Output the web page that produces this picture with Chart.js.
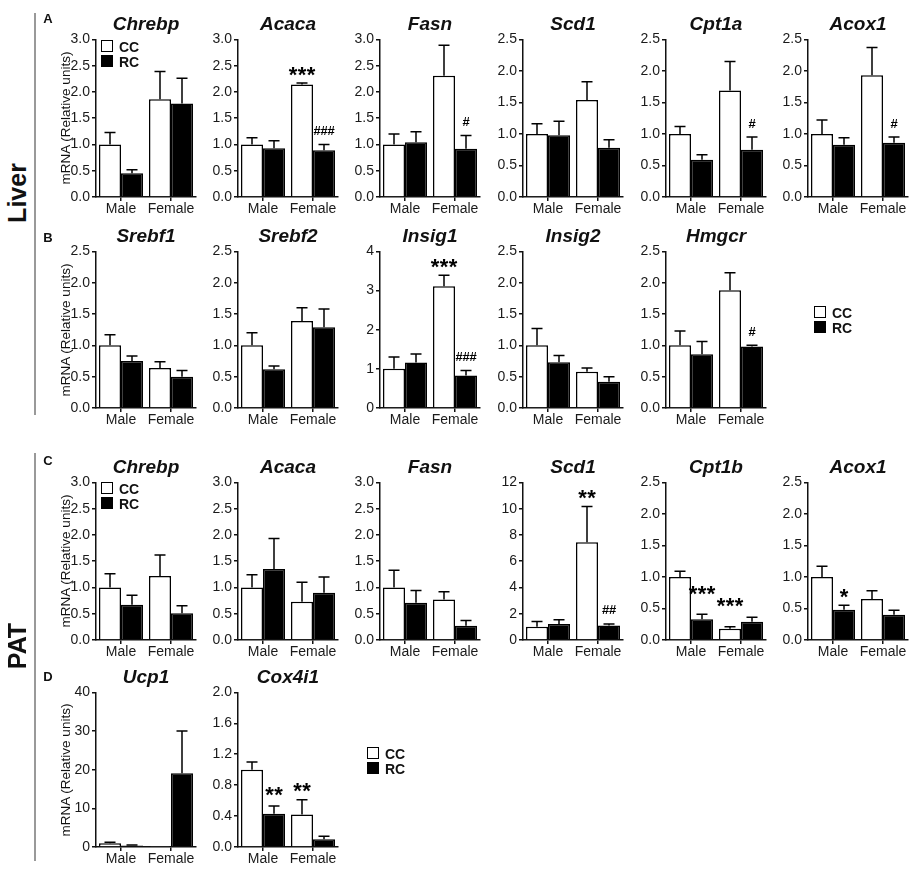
<!DOCTYPE html>
<html>
<head>
<meta charset="utf-8">
<script src="https://cdn.jsdelivr.net/npm/chart.js@4.4.1/dist/chart.umd.min.js"></script>
<style>
  body { margin: 0; width: 921px; height: 874px; position: relative; overflow: hidden; background: #fff;
         font-family: "Liberation Sans", Arial, sans-serif; }
  canvas { position: absolute; }
  .vline { position: absolute; left: 34px; width: 2px; background: #999; }
</style>
</head>
<body>
<div class="vline" style="top:13px;height:402px"></div>
<div class="vline" style="top:453px;height:408px"></div>
<script>
const groups = ['Male', 'Female'];

// A: liver, lipogenesis + oxidation
const genesA = ['Chrebp', 'Acaca', 'Fasn', 'Scd1', 'Cpt1a', 'Acox1'];
const ccA    = [[1.00, 1.86], [1.00, 2.14], [1.00, 2.31], [1.00, 1.54], [1.00, 1.69], [1.00, 1.93]];
const ccErrA = [[0.23, 0.53], [0.13, 0.03], [0.20, 0.58], [0.16, 0.29], [0.12, 0.46], [0.22, 0.44]];
const rcA    = [[0.45, 1.78], [0.93, 0.89], [1.04, 0.92], [0.98, 0.78], [0.59, 0.75], [0.83, 0.86]];
const rcErrA = [[0.07, 0.48], [0.14, 0.11], [0.20, 0.25], [0.22, 0.13], [0.08, 0.20], [0.11, 0.09]];
const yMaxA  = [3, 3, 3, 2.5, 2.5, 2.5];
const yStepA = [0.5, 0.5, 0.5, 0.5, 0.5, 0.5];
const sigA   = [[], [[0, 1, '***'], [1, 1, '###']], [[1, 1, '#']], [], [[1, 1, '#']], [[1, 1, '#']]];

// B: liver, cholesterol
const genesB = ['Srebf1', 'Srebf2', 'Insig1', 'Insig2', 'Hmgcr'];
const ccB    = [[1.00, 0.64], [1.00, 1.39], [1.00, 3.11], [1.00, 0.58], [1.00, 1.88]];
const ccErrB = [[0.17, 0.10], [0.20, 0.21], [0.30, 0.28], [0.27, 0.06], [0.23, 0.28]];
const rcB    = [[0.75, 0.50], [0.62, 1.29], [1.16, 0.83], [0.73, 0.42], [0.86, 0.98]];
const rcErrB = [[0.08, 0.10], [0.05, 0.29], [0.22, 0.13], [0.11, 0.08], [0.20, 0.02]];
const yMaxB  = [2.5, 2.5, 4, 2.5, 2.5];
const yStepB = [0.5, 0.5, 1, 0.5, 0.5];
const sigB   = [[], [], [[0, 1, '***'], [1, 1, '###']], [], [[1, 1, '#']]];

// C: PAT
const genesC = ['Chrebp', 'Acaca', 'Fasn', 'Scd1', 'Cpt1b', 'Acox1'];
const ccC    = [[1.00, 1.22], [1.00, 0.73], [1.00, 0.77], [1.00, 7.45], [1.00, 0.18], [1.00, 0.65]];
const ccErrC = [[0.26, 0.40], [0.24, 0.37], [0.33, 0.15], [0.40, 2.72], [0.09, 0.03], [0.17, 0.13]];
const rcC    = [[0.67, 0.51], [1.35, 0.90], [0.71, 0.27], [1.22, 1.10], [0.33, 0.29], [0.48, 0.40]];
const rcErrC = [[0.18, 0.14], [0.58, 0.30], [0.23, 0.10], [0.33, 0.12], [0.08, 0.07], [0.07, 0.07]];
const yMaxC  = [3, 3, 3, 12, 2.5, 2.5];
const yStepC = [0.5, 0.5, 0.5, 2, 0.5, 0.5];
const sigC   = [[], [], [], [[0, 1, '**'], [1, 1, '##']], [[1, 0, '***', 12], [0, 1, '***', 12]], [[1, 0, '*']]];

// D: PAT thermogenesis
const genesD = ['Ucp1', 'Cox4i1'];
const ccD    = [[1.00, 0.10], [1.00, 0.42]];
const ccErrD = [[0.20, 0.00], [0.10, 0.19]];
const rcD    = [[0.40, 19.1], [0.43, 0.10]];
const rcErrD = [[0.10, 10.9], [0.10, 0.04]];
const yMaxD  = [40, 2];
const yStepD = [10, 0.4];
const sigD   = [[], [[1, 0, '**', 3], [0, 1, '**']]];

const FONT = '"Liberation Sans", Arial, sans-serif';
Chart.defaults.font.family = FONT;
Chart.defaults.color = '#1a1a1a';

const colX = [96, 238, 380, 523, 666, 808];
const plotW = 100, axisW = 44, padTop = 10, padRight = 8, xAxisH = 26;

// error bars (upper only) and significance marks
const errorBars = {
  id: 'errorBars',
  afterDatasetsDraw(chart, args, opts) {
    const ctx = chart.ctx;
    const y = chart.scales.y;
    ctx.save();
    ctx.strokeStyle = '#000';
    ctx.lineWidth = 1.5;
    const caps = [];
    chart.data.datasets.forEach((ds, di) => {
      caps.push([]);
      chart.getDatasetMeta(di).data.forEach((bar, i) => {
        const top = y.getPixelForValue(ds.data[i] + ds.errors[i]);
        caps[di].push({x: bar.x, y: top});
        if (ds.errors[i] <= 0) return;
        ctx.beginPath();
        ctx.moveTo(bar.x, bar.y);
        ctx.lineTo(bar.x, top);
        ctx.moveTo(bar.x - 5.5, top);
        ctx.lineTo(bar.x + 5.5, top);
        ctx.stroke();
      });
    });
    ctx.fillStyle = '#000';
    ctx.textAlign = 'center';
    (opts.marks || []).forEach(m => {
      const [set, idx, text, lift] = m;
      const star = text[0] === '*';
      ctx.font = star ? 'bold 22px ' + FONT : 'bold 13px ' + FONT;
      const step = star ? 9 : 7;
      const cy = caps[set][idx].y - (star ? 12 : 14) - (lift || 0);
      for (let k = 0; k < text.length; k++) {
        const mt = ctx.measureText(text[k]);
        const base = cy + (mt.actualBoundingBoxAscent - mt.actualBoundingBoxDescent) / 2;
        ctx.fillText(text[k], caps[set][idx].x + (k - (text.length - 1) / 2) * step, base);
      }
    });
    ctx.restore();
  }
};

function addText(text, cx, cy, font, rotate) {
  const d = document.createElement('div');
  d.textContent = text;
  d.style.cssText = 'position:absolute;left:' + cx + 'px;top:' + cy + 'px;white-space:nowrap;color:#111;' +
    'transform:translate(-50%,-50%)' + (rotate ? ' rotate(-90deg)' : '') + ';font:' + font + ';';
  document.body.appendChild(d);
}

function addLegend(x, y) {
  [['CC', '#fff'], ['RC', '#000']].forEach((it, i) => {
    const box = document.createElement('div');
    box.style.cssText = 'position:absolute;left:' + x + 'px;top:' + (y + i * 15) + 'px;width:10px;height:10px;' +
      'border:1.5px solid #000;background:' + it[1] + ';';
    document.body.appendChild(box);
    addText(it[0], x + 28, y + i * 15 + 6.5, 'bold 14px ' + FONT);
  });
}

function makePanel(gene, col, plotTop, plotH, cc, ccErr, rc, rcErr, yMax, yStep, marks) {
  const axisX = colX[col];
  const W = axisW + plotW + padRight, H = padTop + plotH + xAxisH;
  const cv = document.createElement('canvas');
  cv.width = W; cv.height = H;
  cv.style.left = (axisX - axisW) + 'px';
  cv.style.top = (plotTop - padTop) + 'px';
  cv.style.width = W + 'px'; cv.style.height = H + 'px';
  document.body.appendChild(cv);

  addText(gene, axisX + plotW / 2, plotTop - 15, 'italic bold 19px ' + FONT);

  const dec = yStep < 1 ? 1 : 0;
  new Chart(cv, {
    type: 'bar',
    data: {
      labels: groups,
      datasets: [
        {label: 'CC', data: cc, errors: ccErr, backgroundColor: '#fff', borderColor: '#000', borderWidth: 1.5},
        {label: 'RC', data: rc, errors: rcErr, backgroundColor: '#000', borderColor: '#000', borderWidth: 1.5}
      ]
    },
    options: {
      responsive: false,
      animation: false,
      layout: {padding: {top: padTop, right: padRight, left: 0, bottom: 0}},
      datasets: {bar: {categoryPercentage: 0.88, barPercentage: 1.0}},
      plugins: {
        legend: {display: false},
        tooltip: {enabled: false},
        errorBars: {marks: marks}
      },
      scales: {
        x: {
          afterFit: s => { s.height = xAxisH; },
          border: {display: true, color: '#111', width: 1.5},
          grid: {drawOnChartArea: false, offset: false, tickLength: 4, color: '#111', lineWidth: 1.5},
          ticks: {padding: 0, font: {size: 14}, color: '#1a1a1a', autoSkip: false, maxRotation: 0, minRotation: 0}
        },
        y: {
          min: 0, max: yMax,
          afterFit: s => { s.width = axisW; },
          border: {display: true, color: '#111', width: 1.5},
          grid: {drawOnChartArea: false, tickLength: 4, color: '#111', lineWidth: 1.5},
          ticks: {stepSize: yStep, padding: 2, font: {size: 14}, color: '#1a1a1a',
                  callback: v => Number(v).toFixed(dec)}
        }
      }
    },
    plugins: [errorBars]
  });
}

// rows: plot top, plot height
const rowTop = [39, 251, 482, 692];
const rowH = [158, 157, 158, 155];

genesA.forEach((g, i) => makePanel(g, i, rowTop[0], rowH[0], ccA[i], ccErrA[i], rcA[i], rcErrA[i], yMaxA[i], yStepA[i], sigA[i]));
genesB.forEach((g, i) => makePanel(g, i, rowTop[1], rowH[1], ccB[i], ccErrB[i], rcB[i], rcErrB[i], yMaxB[i], yStepB[i], sigB[i]));
genesC.forEach((g, i) => makePanel(g, i, rowTop[2], rowH[2], ccC[i], ccErrC[i], rcC[i], rcErrC[i], yMaxC[i], yStepC[i], sigC[i]));
genesD.forEach((g, i) => makePanel(g, i, rowTop[3], rowH[3], ccD[i], ccErrD[i], rcD[i], rcErrD[i], yMaxD[i], yStepD[i], sigD[i]));

// y axis titles on first column
rowTop.forEach((t, r) => addText('mRNA (Relative units)', 65, t + rowH[r] / 2, '13.5px ' + FONT, true));

// panel letters
[['A', 18], ['B', 237], ['C', 460], ['D', 676]].forEach(p => addText(p[0], 48, p[1], 'bold 13px ' + FONT));

// tissue labels
addText('Liver', 17, 193, 'bold 25px ' + FONT, true);
addText('PAT', 17, 646, 'bold 25px ' + FONT, true);

// legends
addLegend(101, 40);
addLegend(101, 482);
addLegend(814, 306);
addLegend(367, 747);
</script>
</body>
</html>
